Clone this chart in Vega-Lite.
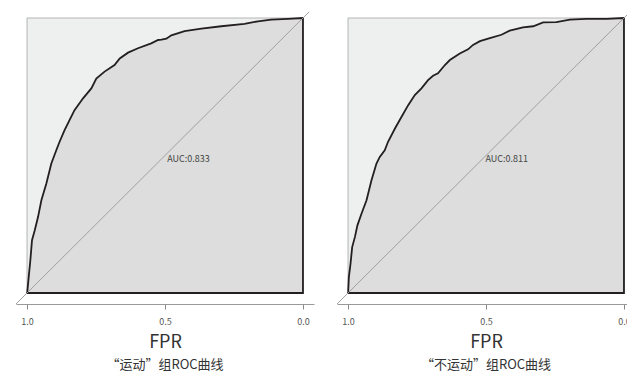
{
  "$schema": "https://vega.github.io/schema/vega-lite/v6.json",
  "padding": {"left": 15, "top": 7, "right": 0, "bottom": 0},
  "background": "white",
  "spacing": 22,
  "config": {
    "view": {"stroke": null},
    "font": "Noto Sans CJK SC",
    "axis": {"grid": false}
  },
  "datasets": {
    "left": [
      {"fpr": 1.0, "tpr": 0.0},
      {"fpr": 0.999, "tpr": 0.004},
      {"fpr": 0.994, "tpr": 0.058},
      {"fpr": 0.988, "tpr": 0.119},
      {"fpr": 0.982, "tpr": 0.192},
      {"fpr": 0.972, "tpr": 0.228},
      {"fpr": 0.960, "tpr": 0.277},
      {"fpr": 0.948, "tpr": 0.337},
      {"fpr": 0.930, "tpr": 0.398},
      {"fpr": 0.912, "tpr": 0.471},
      {"fpr": 0.894, "tpr": 0.519},
      {"fpr": 0.882, "tpr": 0.550},
      {"fpr": 0.864, "tpr": 0.592},
      {"fpr": 0.846, "tpr": 0.629},
      {"fpr": 0.828, "tpr": 0.665},
      {"fpr": 0.797, "tpr": 0.708},
      {"fpr": 0.767, "tpr": 0.744},
      {"fpr": 0.749, "tpr": 0.780},
      {"fpr": 0.719, "tpr": 0.805},
      {"fpr": 0.683, "tpr": 0.829},
      {"fpr": 0.664, "tpr": 0.853},
      {"fpr": 0.634, "tpr": 0.874},
      {"fpr": 0.598, "tpr": 0.890},
      {"fpr": 0.550, "tpr": 0.908},
      {"fpr": 0.525, "tpr": 0.920},
      {"fpr": 0.513, "tpr": 0.921},
      {"fpr": 0.495, "tpr": 0.925},
      {"fpr": 0.477, "tpr": 0.937},
      {"fpr": 0.429, "tpr": 0.952},
      {"fpr": 0.368, "tpr": 0.961},
      {"fpr": 0.296, "tpr": 0.970},
      {"fpr": 0.212, "tpr": 0.979},
      {"fpr": 0.163, "tpr": 0.988},
      {"fpr": 0.115, "tpr": 0.994},
      {"fpr": 0.054, "tpr": 0.997},
      {"fpr": 0.0, "tpr": 1.0}
    ],
    "right": [
      {"fpr": 1.0, "tpr": 0.0},
      {"fpr": 0.9995, "tpr": 0.004},
      {"fpr": 0.997, "tpr": 0.058},
      {"fpr": 0.991, "tpr": 0.107},
      {"fpr": 0.985, "tpr": 0.167},
      {"fpr": 0.975, "tpr": 0.204},
      {"fpr": 0.966, "tpr": 0.246},
      {"fpr": 0.951, "tpr": 0.289},
      {"fpr": 0.933, "tpr": 0.337},
      {"fpr": 0.915, "tpr": 0.410},
      {"fpr": 0.897, "tpr": 0.471},
      {"fpr": 0.885, "tpr": 0.495},
      {"fpr": 0.867, "tpr": 0.519},
      {"fpr": 0.855, "tpr": 0.550},
      {"fpr": 0.830, "tpr": 0.598},
      {"fpr": 0.806, "tpr": 0.641},
      {"fpr": 0.782, "tpr": 0.683},
      {"fpr": 0.758, "tpr": 0.720},
      {"fpr": 0.734, "tpr": 0.744},
      {"fpr": 0.710, "tpr": 0.774},
      {"fpr": 0.692, "tpr": 0.790},
      {"fpr": 0.674, "tpr": 0.799},
      {"fpr": 0.649, "tpr": 0.829},
      {"fpr": 0.631, "tpr": 0.847},
      {"fpr": 0.595, "tpr": 0.871},
      {"fpr": 0.565, "tpr": 0.886},
      {"fpr": 0.547, "tpr": 0.902},
      {"fpr": 0.522, "tpr": 0.916},
      {"fpr": 0.486, "tpr": 0.927},
      {"fpr": 0.444, "tpr": 0.939},
      {"fpr": 0.414, "tpr": 0.954},
      {"fpr": 0.366, "tpr": 0.966},
      {"fpr": 0.329, "tpr": 0.970},
      {"fpr": 0.293, "tpr": 0.984},
      {"fpr": 0.245, "tpr": 0.985},
      {"fpr": 0.196, "tpr": 0.994},
      {"fpr": 0.136, "tpr": 0.997},
      {"fpr": 0.063, "tpr": 0.997},
      {"fpr": 0.0, "tpr": 1.0}
    ],
    "leftLabel": [{"label": "AUC:0.833"}],
    "rightLabel": [{"label": "AUC:0.811"}],
    "one": [{"item": "frame"}]
  },
  "hconcat": [
    {
      "width": 298,
      "height": 297,
      "title": {"text": "“运动”组ROC曲线", "orient": "bottom", "fontSize": 13, "fontWeight": "normal", "color": "#333333", "font": "Noto Sans CJK SC", "offset": 8},
      "layer": [
        {
          "data": {"name": "one"},
          "mark": {"type": "rect", "fill": "#eef0ef", "stroke": "#b4b4b4", "strokeWidth": 1},
          "encoding": {
            "x": {"datum": 1, "type": "quantitative", "scale": {"domain": [-0.04, 1.04], "reverse": true, "nice": false, "zero": false},
              "axis": {"values": [1, 0.5, 0], "format": ".1f", "title": "FPR", "titleFontSize": 18, "titleFontWeight": "normal", "titleColor": "#333333", "titlePadding": 7, "labelFontSize": 9, "labelColor": "#555555", "labelPadding": 8, "tickSize": 5, "tickColor": "#888888", "domainColor": "#999999", "labelFlush": false, "labelFont": "Noto Sans CJK SC", "titleFont": "Noto Sans CJK SC"}},
            "x2": {"datum": 0},
            "y": {"datum": 0, "type": "quantitative", "scale": {"domain": [-0.04, 1.04], "nice": false, "zero": false}, "axis": null},
            "y2": {"datum": 1}
          }
        },
        {
          "data": {"name": "left"},
          "mark": {"type": "area", "fill": "#dcdddc", "fillOpacity": 1, "stroke": "#231f20", "strokeWidth": 1.8, "interpolate": "linear"},
          "encoding": {
            "x": {"field": "fpr", "type": "quantitative"},
            "y": {"field": "tpr", "type": "quantitative"},
            "y2": {"datum": 0}
          }
        },
        {
          "data": {"name": "one"},
          "mark": {"type": "rule", "color": "#a0a0a0", "strokeWidth": 1},
          "encoding": {
            "x": {"datum": 1.04, "type": "quantitative"},
            "y": {"datum": -0.04, "type": "quantitative"},
            "x2": {"datum": -0.022},
            "y2": {"datum": 1.022}
          }
        },
        {
          "data": {"name": "leftLabel"},
          "mark": {"type": "text", "align": "left", "baseline": "middle", "fontSize": 9, "color": "#444444", "font": "Noto Sans CJK SC"},
          "encoding": {
            "x": {"datum": 0.492, "type": "quantitative"},
            "y": {"datum": 0.487, "type": "quantitative"},
            "text": {"field": "label"}
          }
        }
      ]
    },
    {
      "width": 298,
      "height": 297,
      "title": {"text": "“不运动”组ROC曲线", "orient": "bottom", "fontSize": 13, "fontWeight": "normal", "color": "#333333", "font": "Noto Sans CJK SC", "offset": 8},
      "layer": [
        {
          "data": {"name": "one"},
          "mark": {"type": "rect", "fill": "#eef0ef", "stroke": "#b4b4b4", "strokeWidth": 1},
          "encoding": {
            "x": {"datum": 1, "type": "quantitative", "scale": {"domain": [-0.04, 1.04], "reverse": true, "nice": false, "zero": false},
              "axis": {"values": [1, 0.5, 0], "format": ".1f", "title": "FPR", "titleFontSize": 18, "titleFontWeight": "normal", "titleColor": "#333333", "titlePadding": 7, "labelFontSize": 9, "labelColor": "#555555", "labelPadding": 8, "tickSize": 5, "tickColor": "#888888", "domainColor": "#999999", "labelFlush": false, "labelFont": "Noto Sans CJK SC", "titleFont": "Noto Sans CJK SC"}},
            "x2": {"datum": 0},
            "y": {"datum": 0, "type": "quantitative", "scale": {"domain": [-0.04, 1.04], "nice": false, "zero": false}, "axis": null},
            "y2": {"datum": 1}
          }
        },
        {
          "data": {"name": "right"},
          "mark": {"type": "area", "fill": "#dcdddc", "fillOpacity": 1, "stroke": "#231f20", "strokeWidth": 1.8, "interpolate": "linear"},
          "encoding": {
            "x": {"field": "fpr", "type": "quantitative"},
            "y": {"field": "tpr", "type": "quantitative"},
            "y2": {"datum": 0}
          }
        },
        {
          "data": {"name": "one"},
          "mark": {"type": "rule", "color": "#a0a0a0", "strokeWidth": 1},
          "encoding": {
            "x": {"datum": 1.04, "type": "quantitative"},
            "y": {"datum": -0.04, "type": "quantitative"},
            "x2": {"datum": -0.022},
            "y2": {"datum": 1.022}
          }
        },
        {
          "data": {"name": "rightLabel"},
          "mark": {"type": "text", "align": "left", "baseline": "middle", "fontSize": 9, "color": "#444444", "font": "Noto Sans CJK SC"},
          "encoding": {
            "x": {"datum": 0.502, "type": "quantitative"},
            "y": {"datum": 0.487, "type": "quantitative"},
            "text": {"field": "label"}
          }
        }
      ]
    }
  ]
}
